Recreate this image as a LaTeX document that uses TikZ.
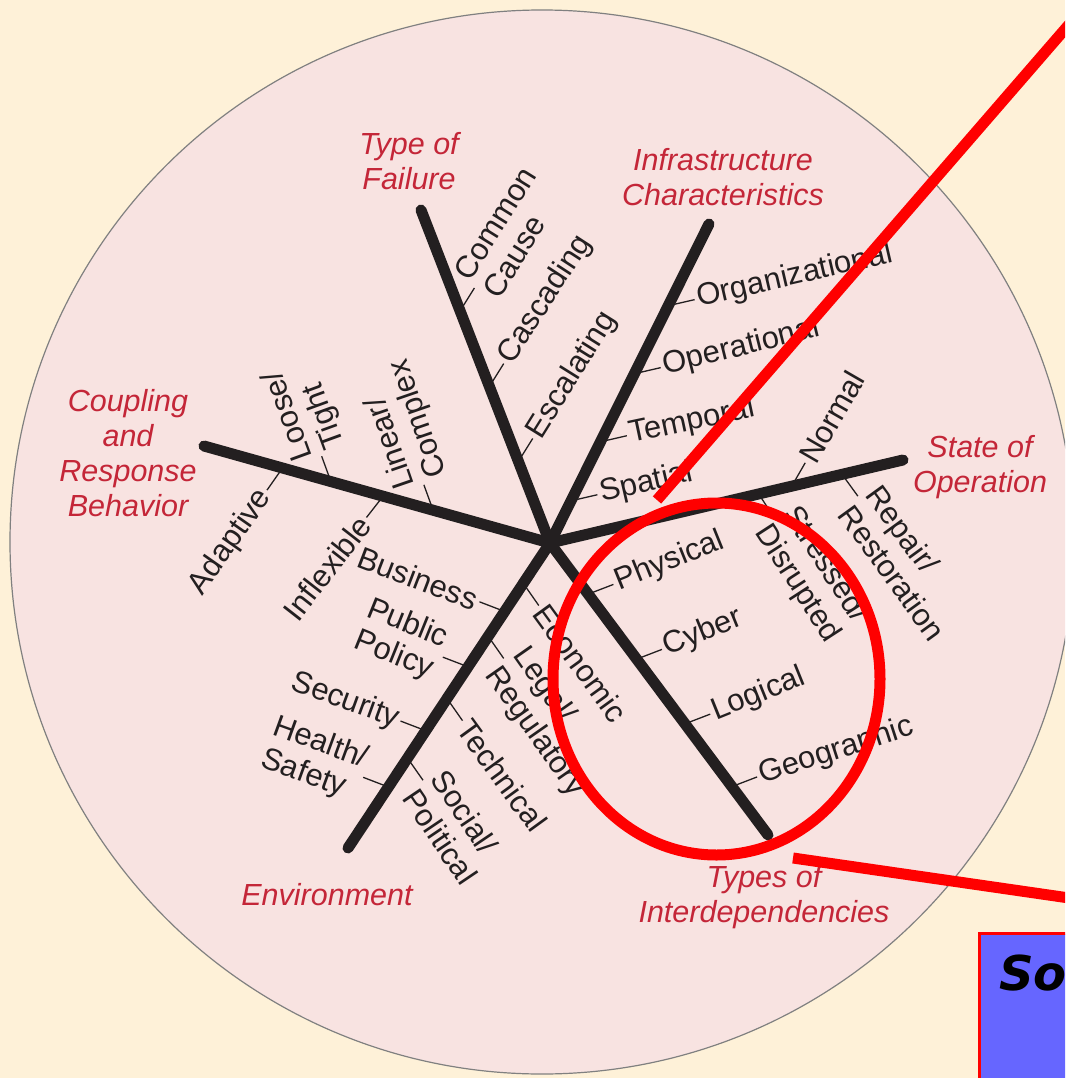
\documentclass[tikz,border=0pt]{standalone}
\usepackage{fontspec}
\setmainfont{Liberation Sans}
\newfontfamily\djv{DejaVu Sans}
\usetikzlibrary{calc}
\definecolor{bgc}{RGB}{254,241,216}
\definecolor{circfill}{RGB}{248,227,225}
\definecolor{ink}{RGB}{35,31,32}
\definecolor{lblred}{RGB}{196,38,56}
\definecolor{boxblue}{RGB}{102,102,255}
\definecolor{rred}{RGB}{255,0,0}
\newcommand\spokeitem[6]{%
  \coordinate (#1s) at (#2);
  \node[item, rotate=#4, anchor=#5] (#1) at ($(#1s)+({27*cos(#3)},{-27*sin(#3)})$) {#6};
  \draw[tickline] (#1s) -- (#1.#5);
}
\begin{document}
\begin{tikzpicture}[x=1pt,y=-1pt,
  spoke/.style={line width=11pt, line cap=round, draw=ink},
  tickline/.style={line width=1.3pt, draw=ink},
  item/.style={inner sep=3pt, outer sep=0pt, align=left, text=ink, font=\fontsize{31}{34}\selectfont},
  cat/.style={align=center, text=lblred, inner sep=0pt, font=\fontsize{30.5}{35}\selectfont\itshape},
  redmark/.style={draw=rred, line width=11pt},
]
\useasboundingbox (0,0) rectangle (1065,1078);
\fill[bgc] (0,0) rectangle (1065,1078);
\begin{scope}
\clip (0,0) rectangle (1065,1078);
\draw[fill=circfill, draw=gray, line width=1.2pt] (542,542) circle[radius=532];

% hub and spoke ends
\coordinate (hub) at (550,543);
\coordinate (e1) at (421,210);
\coordinate (e2) at (709,224);
\coordinate (e3) at (903,460);
\coordinate (e4) at (768,835);
\coordinate (e5) at (348,848);
\coordinate (e6) at (204,446);

% items
\spokeitem{cc}{460.1,310.9}{58}{58}{west}{Common\\Cause}
\spokeitem{cas}{489.4,386.5}{58}{57}{west}{Cascading}
\spokeitem{esc}{518.4,461.4}{58}{58}{west}{Escalating}
\spokeitem{org}{668.3,305.7}{13}{13}{west}{Organizational}
\spokeitem{ope}{634.4,373.7}{13}{14}{west}{Operational}
\spokeitem{tem}{600.5,441.8}{13}{12}{west}{Temporal}
\spokeitem{spa}{571.1,500.8}{13}{13}{west}{Spatial}
\spokeitem{nor}{791.7,486.2}{60}{60}{west}{Normal}
\spokeitem{rep}{842,474.3}{-54}{-54}{west}{Repair/\\Restoration}
\spokeitem{str}{758.7,493.9}{-57}{-57}{west}{Stressed/\\Disrupted}
\spokeitem{phy}{588.2,594.1}{21}{22}{west}{Physical}
\spokeitem{cyb}{636.7,659.1}{21}{22}{west}{Cyber}
\spokeitem{log}{685,723.8}{21}{22}{west}{Logical}
\spokeitem{geo}{731.9,786.6}{21}{18}{west}{Geographic}
\spokeitem{bus}{504.7,611.5}{159}{-21}{east}{Business}
\spokeitem{pub}{468,666.8}{159}{-22}{east}{Public\\Policy}
\spokeitem{sec}{425.7,730.7}{159}{-20}{east}{Security}
\spokeitem{hea}{388.4,787}{159}{-20}{east}{Health/\\Safety}
\spokeitem{eco}{523.3,583.4}{-55}{-54}{west}{Economic}
\spokeitem{leg}{488.2,636.3}{-55}{-55}{west}{Legal/\\Regulatory}
\spokeitem{tec}{447,698.5}{-55}{-54}{west}{Technical}
\spokeitem{soc}{407.5,758.1}{-55}{-56}{west}{Social/\\Political}
\spokeitem{loo}{330.9,481.6}{110}{110}{west}{Loose/\\Tight}
\spokeitem{lin}{433.1,510.2}{110}{109}{west}{Linear/\\Complex}
\spokeitem{ada}{282.5,468}{235}{55}{east}{Adaptive}
\spokeitem{inf}{383.1,496.2}{232}{52}{east}{Inflexible}

% spokes
\draw[spoke] (hub) -- (e1);
\draw[spoke] (hub) -- (e2);
\draw[spoke] (hub) -- (e3);
\draw[spoke] (hub) -- (e4);
\draw[spoke] (hub) -- (e5);
\draw[spoke] (hub) -- (e6);

% category labels
\node[cat] (tf) at (409,161) {Type of\\Failure};
\node[cat] (ic) at (723,177) {Infrastructure\\Characteristics};
\node[cat] (sop) at (980,467) {State of\\Operation};
\node[cat] (ti) at (764,897) {Types of\\Interdependencies};
\node[cat] (env) at (327,895) {Environment};
\node[cat] (cp) at (128,453) {Coupling\\and\\Response\\Behavior};

% red annotations
\coordinate (ra1) at (657,500);
\coordinate (ra2) at (1092,-2);
\draw[redmark] (ra1) -- (ra2);
\draw[redmark] (716.5,679) ellipse[x radius=163.5, y radius=176];
\coordinate (rb1) at (793,858);
\coordinate (rb2) at (1090,901);
\draw[redmark] (rb1) -- (rb2);

% blue box
\draw[draw=rred, line width=3pt, fill=boxblue] (979.5,933.5) rectangle (1080,1090);
\node[font=\djv\bfseries\itshape\fontsize{48}{50}\selectfont, anchor=base west, inner sep=0pt] (sotext) at (999,990) {So};
\end{scope}
\end{tikzpicture}
\end{document}
